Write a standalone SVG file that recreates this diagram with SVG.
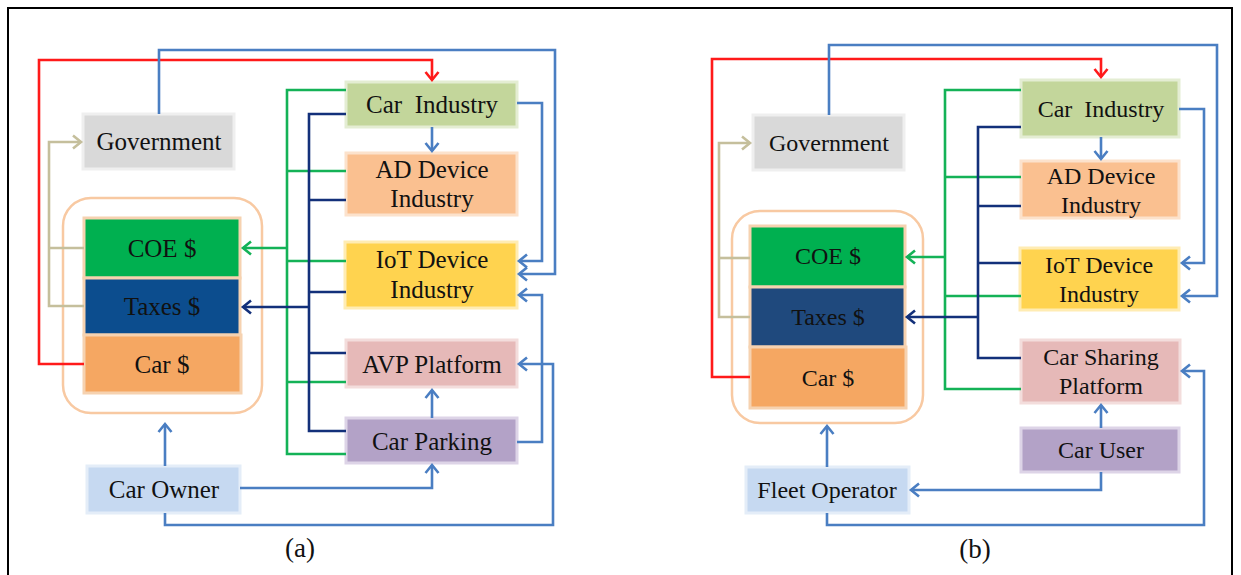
<svg xmlns="http://www.w3.org/2000/svg" width="1241" height="575" viewBox="0 0 1241 575">
<style>
text{font-family:"Liberation Serif","Times New Roman",serif;fill:#111;text-anchor:middle}
.fa{font-size:25px}
.fb{font-size:24px}
.cap{font-size:27px}
.c{fill:none;stroke-width:2.6;stroke-linejoin:miter}
.blue{stroke:#4A7EC2}
.red{stroke:#FF1A1A}
.green{stroke:#14B257}
.navy{stroke:#13307A}
.tan{stroke:#C5BF9C}
.box{stroke-width:3}
</style>
<defs>
<marker id="mb" markerUnits="userSpaceOnUse" markerWidth="20" markerHeight="20" refX="0" refY="0" viewBox="-10 -10 20 20" orient="auto" overflow="visible"><path d="M-8,-6.5 L0,0 L-8,6.5" fill="none" stroke="#4A7EC2" stroke-width="2.6"/></marker>
<marker id="mr" markerUnits="userSpaceOnUse" markerWidth="20" markerHeight="20" refX="0" refY="0" viewBox="-10 -10 20 20" orient="auto" overflow="visible"><path d="M-8,-6.5 L0,0 L-8,6.5" fill="none" stroke="#FF1A1A" stroke-width="2.6"/></marker>
<marker id="mg" markerUnits="userSpaceOnUse" markerWidth="20" markerHeight="20" refX="0" refY="0" viewBox="-10 -10 20 20" orient="auto" overflow="visible"><path d="M-8,-6.5 L0,0 L-8,6.5" fill="none" stroke="#14B257" stroke-width="2.6"/></marker>
<marker id="mn" markerUnits="userSpaceOnUse" markerWidth="20" markerHeight="20" refX="0" refY="0" viewBox="-10 -10 20 20" orient="auto" overflow="visible"><path d="M-8,-6.5 L0,0 L-8,6.5" fill="none" stroke="#13307A" stroke-width="2.6"/></marker>
<marker id="mt" markerUnits="userSpaceOnUse" markerWidth="20" markerHeight="20" refX="0" refY="0" viewBox="-10 -10 20 20" orient="auto" overflow="visible"><path d="M-8,-6.5 L0,0 L-8,6.5" fill="none" stroke="#C5BF9C" stroke-width="2.6"/></marker>
</defs>
<rect x="0" y="0" width="1241" height="575" fill="#fff"/>
<rect x="8" y="8" width="1224" height="590" fill="none" stroke="#000" stroke-width="2"/>

<!-- Diagram (a) -->
<g id="a-container"><rect x="63" y="198" width="199" height="215" rx="28" fill="#fff" stroke="#F8C9A2" stroke-width="2.5"/></g>
<g id="a-coe"><rect class="box" x="84" y="218" width="156" height="60" fill="#00B050" stroke="#F6D2B0"/><text class="fa" x="162" y="257">COE $</text></g>
<g id="a-taxes"><rect class="box" x="84" y="278" width="156" height="57" fill="#0C4D8E" stroke="#F6D2B0"/><text class="fa" x="162" y="315">Taxes $</text></g>
<g id="a-car"><rect class="box" x="84" y="335" width="157" height="58" fill="#F5A762" stroke="#F6D2B0"/><text class="fa" x="162" y="373">Car $</text></g>
<g id="a-government"><rect class="box" x="83" y="114" width="151" height="55" fill="#D9D9D9" stroke="#EFEFEF"/><text class="fa" x="159" y="150">Government</text></g>
<g id="a-carindustry"><rect class="box" x="346" y="82" width="171" height="45" fill="#C3D69B" stroke="#E4EDD3"/><text class="fa" x="432" y="113" xml:space="preserve">Car  Industry</text></g>
<g id="a-adindustry"><rect class="box" x="346" y="153" width="171" height="62" fill="#FAC090" stroke="#FCE2CC"/><text class="fa" x="432" y="178">AD Device</text><text class="fa" x="432" y="207">Industry</text></g>
<g id="a-iotindustry"><rect class="box" x="345" y="242" width="172" height="66" fill="#FFD34F" stroke="#FFECB3"/><text class="fa" x="432" y="268">IoT Device</text><text class="fa" x="432" y="298">Industry</text></g>
<g id="a-avp"><rect class="box" x="346" y="340" width="171" height="47" fill="#E6B9B8" stroke="#F3DDDC"/><text class="fa" x="432" y="373">AVP Platform</text></g>
<g id="a-carparking"><rect class="box" x="346" y="418" width="171" height="45" fill="#B3A2C7" stroke="#DDD4E7"/><text class="fa" x="432" y="450">Car Parking</text></g>
<g id="a-carowner"><rect class="box" x="87" y="466" width="153" height="47" fill="#C6D9F1" stroke="#E4EDF8"/><text class="fa" x="164" y="498">Car Owner</text></g>
<text class="cap" x="300" y="557">(a)</text>

<g id="a-connectors">
<path class="c red" d="M84,364 H39 V60 H432 V80" marker-end="url(#mr)"/>
<path class="c blue" d="M159,114 V50 H555 V274 H519" marker-end="url(#mb)"/>
<path class="c blue" d="M517,103 H542 V261 H519" marker-end="url(#mb)"/>
<path class="c blue" d="M432,127 V151" marker-end="url(#mb)"/>
<path class="c blue" d="M517,442 H542 V295 H519" marker-end="url(#mb)"/>
<path class="c blue" d="M165,513 V525 H553 V364 H519" marker-end="url(#mb)"/>
<path class="c blue" d="M432,418 V390" marker-end="url(#mb)"/>
<path class="c blue" d="M240,488 H432 V465" marker-end="url(#mb)"/>
<path class="c blue" d="M165,466 V424" marker-end="url(#mb)"/>
<path class="c tan" d="M84,306 H49 V142 H81" marker-end="url(#mt)"/>
<path class="c tan" d="M84,248 H49"/>
<path class="c green" d="M346,90 H287 V454 H346 M346,171 H287 M346,261 H287 M346,382 H287"/>
<path class="c green" d="M287,248 H243" marker-end="url(#mg)"/>
<path class="c navy" d="M346,114 H309 V431 H346 M346,200 H309 M346,292 H309 M346,353 H309"/>
<path class="c navy" d="M309,307 H243" marker-end="url(#mn)"/>
</g>

<!-- Diagram (b) -->
<g id="b-container"><rect x="732" y="211" width="191" height="212" rx="28" fill="#fff" stroke="#F8C9A2" stroke-width="2.5"/></g>
<g id="b-coe"><rect class="box" x="750" y="226" width="155" height="61" fill="#00B050" stroke="#F6D2B0"/><text class="fb" x="828" y="264">COE $</text></g>
<g id="b-taxes"><rect class="box" x="750" y="287" width="155" height="60" fill="#1F497D" stroke="#F6D2B0"/><text class="fb" x="828" y="325">Taxes $</text></g>
<g id="b-car"><rect class="box" x="750" y="347" width="156" height="61" fill="#F5A762" stroke="#F6D2B0"/><text class="fb" x="828" y="386">Car $</text></g>
<g id="b-government"><rect class="box" x="753" y="115" width="151" height="55" fill="#D9D9D9" stroke="#EFEFEF"/><text class="fb" x="829" y="151">Government</text></g>
<g id="b-carindustry"><rect class="box" x="1021" y="80" width="158" height="57" fill="#C3D69B" stroke="#E4EDD3"/><text class="fb" x="1101" y="117" xml:space="preserve">Car  Industry</text></g>
<g id="b-adindustry"><rect class="box" x="1021" y="161" width="158" height="57" fill="#FAC090" stroke="#FCE2CC"/><text class="fb" x="1101" y="184">AD Device</text><text class="fb" x="1101" y="213">Industry</text></g>
<g id="b-iotindustry"><rect class="box" x="1020" y="248" width="159" height="62" fill="#FFD34F" stroke="#FFECB3"/><text class="fb" x="1099" y="273">IoT Device</text><text class="fb" x="1099" y="302">Industry</text></g>
<g id="b-carsharing"><rect class="box" x="1021" y="340" width="159" height="63" fill="#E6B9B8" stroke="#F3DDDC"/><text class="fb" x="1101" y="365">Car Sharing</text><text class="fb" x="1101" y="394">Platform</text></g>
<g id="b-caruser"><rect class="box" x="1021" y="428" width="158" height="44" fill="#B3A2C7" stroke="#DDD4E7"/><text class="fb" x="1101" y="458">Car User</text></g>
<g id="b-fleet"><rect class="box" x="746" y="467" width="163" height="46" fill="#C6D9F1" stroke="#E4EDF8"/><text class="fb" x="827" y="498">Fleet Operator</text></g>
<text class="cap" x="975" y="558">(b)</text>

<g id="b-connectors">
<path class="c red" d="M750,377 H712 V59 H1101 V77" marker-end="url(#mr)"/>
<path class="c blue" d="M829,115 V45 H1217 V296 H1182" marker-end="url(#mb)"/>
<path class="c blue" d="M1179,109 H1204 V263 H1182" marker-end="url(#mb)"/>
<path class="c blue" d="M1101,137 V159" marker-end="url(#mb)"/>
<path class="c blue" d="M1101,428 V405" marker-end="url(#mb)"/>
<path class="c blue" d="M1101,472 V490 H911" marker-end="url(#mb)"/>
<path class="c blue" d="M827,513 V525 H1204 V371 H1182" marker-end="url(#mb)"/>
<path class="c blue" d="M827,467 V426" marker-end="url(#mb)"/>
<path class="c tan" d="M750,317 H719 V143 H750" marker-end="url(#mt)"/>
<path class="c tan" d="M750,258 H719"/>
<path class="c green" d="M1021,90 H945 V389 H1021 M1021,177 H945 M1021,296 H945"/>
<path class="c green" d="M945,257 H907" marker-end="url(#mg)"/>
<path class="c navy" d="M1021,127 H978 V358 H1021 M1021,206 H978 M1021,263 H978"/>
<path class="c navy" d="M978,317 H907" marker-end="url(#mn)"/>
</g>
</svg>
